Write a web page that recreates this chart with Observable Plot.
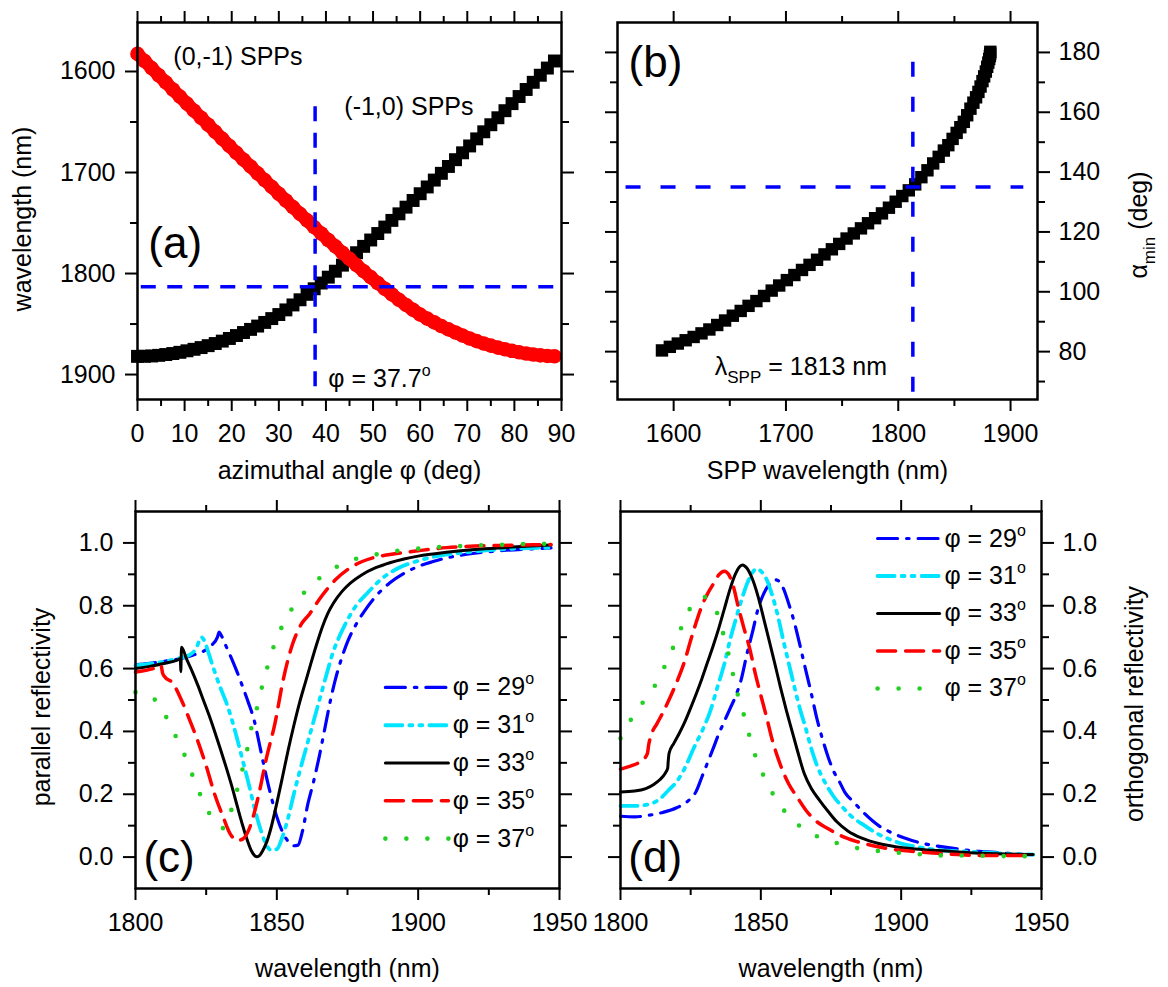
<!DOCTYPE html>
<html>
<head>
<meta charset="utf-8">
<script src="https://cdn.jsdelivr.net/npm/d3@7"></script>
<script src="https://cdn.jsdelivr.net/npm/@observablehq/plot@0.6"></script>
<style>
  html, body { margin: 0; padding: 0; background: #fff; }
  #root { position: relative; width: 1168px; height: 987px; overflow: hidden; background: #fff; }
  #root > svg { position: absolute; overflow: visible; }
  #root text { white-space: pre; }
</style>
</head>
<body>
<div id="root"></div>
<script>
// ---------------- DATA ----------------
// (a) azimuthal angle (deg)
const phi = [0,1.5,3,4.5,6,7.5,9,10.5,12,13.5,15,16.5,18,19.5,21,22.5,24,25.5,27,28.5,30,31.5,33,34.5,36,37.5,39,40.5,42,43.5,45,46.5,48,49.5,51,52.5,54,55.5,57,58.5,60,61.5,63,64.5,66,67.5,69,70.5,72,73.5,75,76.5,78,79.5,81,82.5,84,85.5,87,88.5];
// (-1,0) SPPs wavelength (nm)
const lambdaM10 = [1882.0,1881.9,1881.6,1881.0,1880.2,1879.2,1878.0,1876.5,1875.0,1873.3,
  1871.4,1869.3,1866.9,1864.3,1861.4,1858.4,1855.3,1852.0,1848.4,1844.6,
  1840.6,1836.0,1831.1,1826.0,1820.6,1815.1,1809.4,1803.6,1797.7,1791.7,
  1785.5,1779.4,1773.1,1766.8,1760.4,1754.0,1747.4,1740.9,1734.3,1727.7,
  1721.0,1714.3,1707.5,1700.8,1694.0,1687.3,1680.5,1673.7,1666.7,1659.7,
  1652.7,1645.8,1638.8,1631.8,1624.8,1617.8,1610.7,1603.7,1596.6,1589.6];
// (0,-1) SPPs wavelength (nm)
const lambda0M1 = [1582.6,1589.6,1596.6,1603.7,1610.7,1617.8,1624.8,1631.8,1638.8,1645.8,
  1652.7,1659.7,1666.7,1673.7,1680.5,1687.3,1694.0,1700.8,1707.5,1714.3,
  1721.0,1727.7,1734.3,1740.9,1747.4,1754.0,1760.4,1766.8,1773.1,1779.4,
  1785.5,1791.7,1797.7,1803.6,1809.4,1815.1,1820.6,1826.0,1831.1,1836.0,
  1840.6,1844.6,1848.4,1852.0,1855.3,1858.4,1861.4,1864.3,1866.9,1869.3,
  1871.4,1873.3,1875.0,1876.5,1878.0,1879.2,1880.2,1881.0,1881.6,1881.9];
// (b) alpha_min (deg) for each SPP wavelength of the (-1,0) branch
const alphaMin = [180.2,179.6,178.8,177.8,176.6,175.2,173.6,172.0,170.4,168.6,
  166.8,165.0,163.2,161.2,159.0,156.8,155.0,153.1,151.1,149.0,
  147.2,145.1,142.9,140.6,138.3,135.9,133.9,132.0,130.1,128.1,
  126.2,124.6,122.9,121.2,119.5,117.8,116.0,114.2,112.5,110.7,
  109.0,107.3,105.6,103.9,102.1,100.4,98.6,96.9,95.3,93.6,
  92.0,90.4,88.9,87.4,86.1,84.9,83.8,82.7,81.6,80.4];
const phiMark = 37.7, lambdaMark = 1813, alphaMark = 135;

// (c) parallel reflectivity: [wavelength nm, R]
const par29 = [[1800,0.612],[1805,0.617],[1810,0.623],[1815,0.630],[1820,0.642],[1824,0.655],[1827,0.675],[1829,0.700],[1829.6,0.716],[1830.5,0.703],[1832,0.672],[1834,0.632],[1836,0.588],[1838,0.540],[1840,0.490],[1842,0.435],[1844,0.352],[1846,0.268],[1848,0.192],[1850,0.128],[1852,0.080],[1854,0.050],[1856,0.036],[1857.5,0.038],[1859,0.080],[1861,0.170],[1863,0.240],[1865,0.320],[1867,0.410],[1869,0.500],[1871,0.575],[1873,0.635],[1875,0.685],[1878,0.740],[1881,0.783],[1885,0.830],[1890,0.873],[1895,0.903],[1900,0.925],[1905,0.940],[1910,0.952],[1920,0.967],[1930,0.976],[1940,0.981],[1947,0.984]];
const par31 = [[1800,0.610],[1805,0.615],[1810,0.622],[1815,0.632],[1819,0.643],[1821.5,0.665],[1823.3,0.700],[1824.3,0.690],[1826,0.645],[1828,0.590],[1830,0.540],[1832,0.495],[1834,0.440],[1836,0.375],[1838,0.305],[1840,0.235],[1842,0.160],[1844,0.095],[1846,0.045],[1848,0.022],[1850,0.025],[1852,0.065],[1854,0.125],[1856,0.200],[1858,0.270],[1860,0.335],[1862,0.400],[1864,0.465],[1866,0.530],[1868,0.595],[1870,0.655],[1872,0.700],[1875,0.755],[1878,0.800],[1882,0.840],[1887,0.885],[1893,0.920],[1900,0.943],[1905,0.955],[1915,0.968],[1925,0.977],[1935,0.982],[1947,0.985]];
const par33 = [[1800,0.600],[1805,0.607],[1810,0.616],[1815,0.628],[1815.9,0.632],[1816.0,0.590],[1816.3,0.668],[1818,0.632],[1820,0.592],[1822,0.548],[1824,0.500],[1826,0.452],[1828,0.400],[1830,0.345],[1832,0.288],[1834,0.228],[1836,0.162],[1838,0.098],[1839.5,0.055],[1841,0.020],[1842,0.006],[1843,0.001],[1844,0.006],[1845,0.020],[1846.5,0.050],[1848,0.095],[1850,0.172],[1852,0.255],[1854,0.340],[1856,0.418],[1858,0.490],[1860,0.553],[1862,0.615],[1864,0.675],[1866,0.730],[1868,0.775],[1870,0.808],[1873,0.845],[1876,0.872],[1880,0.898],[1885,0.921],[1890,0.937],[1895,0.949],[1900,0.958],[1910,0.970],[1920,0.979],[1930,0.985],[1940,0.990],[1947,0.993]];
const par35 = [[1800,0.589],[1804,0.595],[1807,0.602],[1809,0.610],[1809.6,0.585],[1810.5,0.572],[1813,0.556],[1816,0.505],[1819,0.440],[1822,0.370],[1825,0.290],[1828,0.200],[1831,0.128],[1833.5,0.074],[1836,0.053],[1838,0.058],[1840,0.085],[1842,0.140],[1843.4,0.191],[1846.4,0.318],[1849.3,0.424],[1852.2,0.562],[1855.2,0.668],[1858.7,0.742],[1861.6,0.774],[1865,0.820],[1868,0.855],[1871,0.885],[1875,0.915],[1880,0.940],[1885,0.955],[1890,0.963],[1900,0.975],[1910,0.985],[1920,0.990],[1930,0.992],[1947,0.995]];
const par37 = [[1800,0.525],[1803,0.518],[1806.5,0.504],[1809,0.475],[1811.2,0.440],[1813,0.408],[1814.7,0.376],[1818.2,0.307],[1821.1,0.238],[1824.1,0.175],[1828.2,0.111],[1831,0.092],[1832.5,0.105],[1834,0.153],[1836,0.215],[1838,0.285],[1839.7,0.350],[1841.1,0.416],[1843.2,0.482],[1845,0.551],[1847,0.615],[1849.3,0.681],[1852.5,0.746],[1856.9,0.811],[1862.8,0.870],[1869.8,0.917],[1876.8,0.946],[1884.4,0.962],[1892,0.974],[1899.2,0.981],[1906.2,0.986],[1915,0.990],[1928.5,0.994],[1942.6,0.997],[1947,0.997]];

// (d) orthogonal reflectivity: [wavelength nm, R]
const orth29 = [[1800,0.130],[1805,0.128],[1810,0.133],[1815,0.142],[1820,0.157],[1824,0.178],[1827,0.210],[1829,0.255],[1831,0.300],[1833,0.345],[1835,0.392],[1837,0.432],[1839,0.472],[1841,0.512],[1843,0.565],[1845,0.645],[1847,0.715],[1849,0.790],[1851,0.838],[1853,0.868],[1855,0.883],[1856.5,0.878],[1858,0.856],[1860,0.805],[1862,0.745],[1864,0.672],[1866,0.595],[1868,0.520],[1870,0.440],[1872,0.375],[1874,0.318],[1876,0.272],[1878,0.240],[1880,0.205],[1883,0.176],[1887,0.138],[1892,0.100],[1897,0.076],[1902,0.058],[1908,0.043],[1913,0.035],[1920,0.026],[1928,0.018],[1935,0.014],[1941,0.010],[1947,0.008]];
const orth31 = [[1800,0.163],[1805,0.163],[1810,0.168],[1814,0.185],[1817,0.212],[1820,0.240],[1823,0.285],[1826,0.345],[1829,0.400],[1832,0.465],[1834.5,0.540],[1837,0.615],[1839,0.690],[1841,0.755],[1843,0.815],[1845,0.868],[1847,0.905],[1848.5,0.918],[1850,0.910],[1852,0.885],[1854,0.835],[1856,0.770],[1858,0.690],[1860,0.615],[1862,0.540],[1864,0.470],[1866,0.410],[1868,0.345],[1870,0.292],[1873,0.235],[1876,0.192],[1879,0.160],[1882,0.132],[1887,0.100],[1891,0.077],[1896,0.056],[1900,0.043],[1906,0.032],[1912,0.024],[1920,0.019],[1927,0.016],[1935,0.012],[1947,0.008]];
const orth33 = [[1800,0.207],[1805,0.210],[1809,0.218],[1812,0.232],[1814,0.246],[1816,0.268],[1816.8,0.282],[1817.0,0.305],[1817.3,0.330],[1819,0.362],[1821,0.395],[1823,0.432],[1825,0.475],[1827,0.520],[1829,0.568],[1831,0.620],[1833,0.672],[1835,0.728],[1837,0.790],[1839,0.852],[1841,0.902],[1842.5,0.925],[1843.5,0.930],[1845,0.920],[1847,0.885],[1849,0.830],[1851,0.760],[1853,0.688],[1855,0.615],[1857,0.540],[1859,0.470],[1861,0.405],[1863,0.340],[1865.5,0.265],[1868,0.218],[1871,0.180],[1874,0.145],[1877,0.113],[1881,0.083],[1886,0.060],[1892,0.043],[1898,0.033],[1905,0.026],[1916,0.019],[1928,0.012],[1947,0.008]];
const orth35 = [[1800,0.280],[1804,0.291],[1806,0.298],[1808,0.310],[1809.6,0.330],[1810.0,0.355],[1811,0.390],[1813,0.425],[1815,0.458],[1817,0.495],[1819,0.535],[1821,0.578],[1823,0.628],[1825,0.690],[1827,0.748],[1829,0.800],[1831,0.838],[1833,0.868],[1835,0.898],[1837,0.910],[1838.5,0.900],[1840,0.868],[1842,0.795],[1844,0.728],[1846,0.665],[1848,0.585],[1850,0.515],[1852,0.447],[1854,0.375],[1856,0.318],[1858,0.270],[1860,0.232],[1863,0.190],[1866,0.150],[1869,0.120],[1874,0.090],[1879,0.066],[1884,0.050],[1890,0.036],[1896,0.026],[1902,0.020],[1910,0.014],[1920,0.008],[1930,0.005],[1947,0.005]];
const orth37 = [[1800,0.378],[1803,0.427],[1808,0.493],[1813,0.557],[1816.6,0.624],[1819.8,0.689],[1822.9,0.756],[1826.8,0.818],[1829.8,0.828],[1832.9,0.809],[1835.6,0.743],[1837.6,0.677],[1839.4,0.612],[1840.9,0.546],[1843.1,0.480],[1845.1,0.414],[1847.1,0.348],[1849.8,0.283],[1853.3,0.217],[1857.8,0.154],[1864.8,0.092],[1872.3,0.058],[1879.6,0.039],[1887,0.024],[1894,0.018],[1901.5,0.012],[1908.8,0.008],[1915.8,0.005],[1923,0.005],[1930.6,0.004],[1938,0.003],[1945,0.003]];

const angleLabels = ["29", "31", "33", "35", "37"];
const parallelSeries = [par29, par31, par33, par35, par37];
const orthogonalSeries = [orth29, orth31, orth33, orth35, orth37];

// tick values
const ticksPhi = [0,10,20,30,40,50,60,70,80,90], ticksPhiMinor = [5,15,25,35,45,55,65,75,85];
const ticksWl = [1600,1700,1800,1900], ticksWlMinor = [1650,1750,1850];
const ticksAlpha = [80,100,120,140,160,180], ticksAlphaMinor = [70,90,110,130,150,170];
const ticksWl2 = [1800,1850,1900,1950], ticksWl2Minor = [1825,1875,1925];
const ticksR = [0,0.2,0.4,0.6,0.8,1.0], ticksRMinor = [0.1,0.3,0.5,0.7,0.9];

// ---------------- STYLE ----------------
const FONT = '"Liberation Sans", Arial, Helvetica, sans-serif';
const baseStyle = {fontFamily: FONT, fontSize: "25px", color: "#000", background: "transparent", overflow: "visible"};
const BLUE = "#0000ff", CYAN = "#00e5ff", RED = "#ff0000", GREEN = "#22d022", BLACK = "#000000";
const seriesStyles = [
  {stroke: BLUE, strokeWidth: 3.2, strokeDasharray: "20,9,2.5,9"},
  {stroke: CYAN, strokeWidth: 3.8, strokeDasharray: "17,7,3,7,3,7"},
  {stroke: BLACK, strokeWidth: 3},
  {stroke: RED, strokeWidth: 3.5, strokeDasharray: "18,10"},
  {stroke: GREEN, strokeWidth: 4.6, strokeDasharray: "0,21", strokeLinecap: "round"}
];
const none = () => "";
const plain = d => String(d);
const dec1 = d3.format(".1f");

function frameAxes(o) {
  const c = {label: null, strokeWidth: 2};
  const m = [
    Plot.axisX(o.xMajor, {...c, anchor: "bottom", tickSize: 12, tickPadding: 13, tickFormat: plain}),
    Plot.axisX(o.xMinor, {...c, anchor: "bottom", tickSize: 7, tickFormat: none}),
    Plot.axisX(o.xMajor, {...c, anchor: "top", tickSize: 12, tickFormat: none}),
    Plot.axisX(o.xMinor, {...c, anchor: "top", tickSize: 7, tickFormat: none})
  ];
  for (const side of ["left", "right"]) {
    m.push(Plot.axisY(o.yMajor, {...c, anchor: side, tickSize: 12, tickPadding: side === "left" ? 10 : 9,
      tickFormat: side === o.ySide ? o.yFmt : none}));
    m.push(Plot.axisY(o.yMinor, {...c, anchor: side, tickSize: 7, tickFormat: none}));
  }
  return m;
}

// convert _{..} and ^{..} into real subscript / superscript tspans
function rich(svg) {
  svg.querySelectorAll("text").forEach(t => {
    const s = t.textContent;
    if (!/[_^]\{/.test(s)) return;
    const parts = s.split(/([_^]\{[^}]*\})/).filter(p => p.length);
    t.textContent = "";
    let shift = 0;
    for (const p of parts) {
      const ts = document.createElementNS("http://www.w3.org/2000/svg", "tspan");
      let target = 0, txt = p, size = null;
      if (p.startsWith("_{")) { target = 8; txt = p.slice(2, -1); size = 17; }
      else if (p.startsWith("^{")) { target = -11; txt = p.slice(2, -1); size = 16; }
      ts.setAttribute("dy", String(target - shift));
      shift = target;
      if (size) ts.setAttribute("font-size", String(size));
      ts.textContent = txt;
      t.appendChild(ts);
    }
  });
}

const root = document.getElementById("root");
function place(svg, left, top) {
  rich(svg);
  svg.style.left = left + "px";
  svg.style.top = top + "px";
  root.appendChild(svg);
}

const xTitle = (t, dy) => Plot.text([t], {frameAnchor: "bottom", dy, textAnchor: "middle", lineAnchor: "middle", fontSize: 25});
const yTitle = (t, side, dx, dy) => Plot.text([t], {frameAnchor: side, dx, dy, rotate: -90, textAnchor: "middle", lineAnchor: "middle", fontSize: 25});

// ---------------- PANEL (a) ----------------
const dashA = {stroke: BLUE, strokeWidth: 3.5, strokeDasharray: "15,11.5"};
place(Plot.plot({
  width: 580, height: 490, marginLeft: 137, marginRight: 19, marginTop: 22, marginBottom: 91,
  x: {domain: [0, 90]}, y: {domain: [1551.5, 1924.7], reverse: true},
  style: baseStyle,
  marks: [
    ...frameAxes({xMajor: ticksPhi, xMinor: ticksPhiMinor, yMajor: ticksWl, yMinor: ticksWlMinor, ySide: "left", yFmt: plain}),
    Plot.dot(phi, {x: phi, y: lambdaM10, symbol: "square", r: 7.3, fill: BLACK, stroke: "none"}),
    Plot.line(phi, {x: phi, y: lambda0M1, stroke: RED, strokeWidth: 13, strokeLinecap: "round", strokeLinejoin: "round"}),
    Plot.dot(phi, {x: phi, y: lambda0M1, r: 7.3, fill: RED, stroke: "none"}),
    Plot.ruleX([phiMark], {y1: 1635, y2: 1919, ...dashA}),
    Plot.ruleY([lambdaMark], {x1: 0.8, x2: 88.7, ...dashA}),
    Plot.text(["(0,-1) SPPs"], {x: 7.6, y: 1585.7, textAnchor: "start", fontSize: 25}),
    Plot.text(["(-1,0) SPPs"], {x: 43.9, y: 1635.3, textAnchor: "start", fontSize: 25}),
    Plot.text(["(a)"], {x: 2.3, y: 1771, textAnchor: "start", fontSize: 44}),
    Plot.text([`φ = ${phiMark}^{o}`], {x: 40.5, y: 1904, textAnchor: "start", fontSize: 25}),
    xTitle("azimuthal angle φ (deg)", 71),
    yTitle("wavelength (nm)", "left", -115, 8),
    Plot.frame({stroke: BLACK, strokeWidth: 2.5})
  ]
}), 0, 0);

// ---------------- PANEL (b) ----------------
const dashB = {stroke: BLUE, strokeWidth: 3.5, strokeDasharray: "15,20"};
place(Plot.plot({
  width: 588, height: 490, marginLeft: 37, marginRight: 131, marginTop: 22, marginBottom: 91,
  x: {domain: [1550, 1924]}, y: {domain: [64, 190]},
  style: baseStyle,
  marks: [
    ...frameAxes({xMajor: ticksWl, xMinor: ticksWlMinor, yMajor: ticksAlpha, yMinor: ticksAlphaMinor, ySide: "right", yFmt: plain}),
    Plot.dot(lambdaM10, {x: lambdaM10, y: alphaMin, symbol: "square", r: 7.0, fill: BLACK, stroke: "none"}),
    Plot.ruleX([lambdaMark], {y1: 66.4, y2: 178.7, ...dashB}),
    Plot.ruleY([alphaMark], {x1: 1557.6, x2: 1911.8, ...dashB}),
    Plot.text(["(b)"], {x: 1559.8, y: 176.6, textAnchor: "start", fontSize: 44}),
    Plot.text([`λ_{SPP} = ${lambdaMark} nm`], {x: 1636.6, y: 74.7, textAnchor: "start", fontSize: 25}),
    xTitle("SPP wavelength (nm)", 71),
    yTitle("α_{min} (deg)", "right", 101, 14),
    Plot.frame({stroke: BLACK, strokeWidth: 2.5})
  ]
}), 580, 0);

// ---------------- PANELS (c) and (d) ----------------
function reflPanel(series, o) {
  const legend = angleLabels.flatMap((a, i) => {
    const y = o.legY0 - i * o.legStep;
    return [
      Plot.line([[o.legX1, y], [o.legX2, y]], {x: d => d[0], y: d => d[1], ...seriesStyles[i]}),
      Plot.text([`φ = ${a}^{o}`], {x: o.legXt, y, textAnchor: "start", fontSize: 25})
    ];
  });
  return Plot.plot({
    width: o.width, height: 497, marginLeft: o.ml, marginRight: o.mr, marginTop: 21, marginBottom: 99,
    x: {domain: [1800, 1950]}, y: {domain: [-0.1, 1.1]},
    style: baseStyle,
    marks: [
      ...frameAxes({xMajor: ticksWl2, xMinor: ticksWl2Minor, yMajor: ticksR, yMinor: ticksRMinor, ySide: o.ySide, yFmt: dec1}),
      ...series.map((s, i) => Plot.line(s, {x: d => d[0], y: d => d[1], curve: "monotone-x", ...seriesStyles[i]})),
      ...legend,
      Plot.text([o.tag], {x: 1802.8, y: -0.003, textAnchor: "start", fontSize: 44}),
      xTitle("wavelength (nm)", 80),
      yTitle(o.title, o.ySide, o.titleDx, o.titleDy),
      Plot.frame({stroke: BLACK, strokeWidth: 2.5})
    ]
  });
}

place(reflPanel(parallelSeries, {
  width: 580, ml: 135, mr: 21, ySide: "left", tag: "(c)", title: "parallel reflectivity", titleDx: -94, titleDy: 7,
  legX1: 1888.4, legX2: 1910.7, legXt: 1912.2, legY0: 0.540, legStep: 0.1203
}), 0, 490);

place(reflPanel(orthogonalSeries, {
  width: 588, ml: 40, mr: 127, ySide: "right", tag: "(d)", title: "orthogonal reflectivity", titleDx: 93, titleDy: 4,
  legX1: 1891.6, legX2: 1913.7, legXt: 1915.4, legY0: 1.014, legStep: 0.1193
}), 580, 490);
</script>
</body>
</html>
